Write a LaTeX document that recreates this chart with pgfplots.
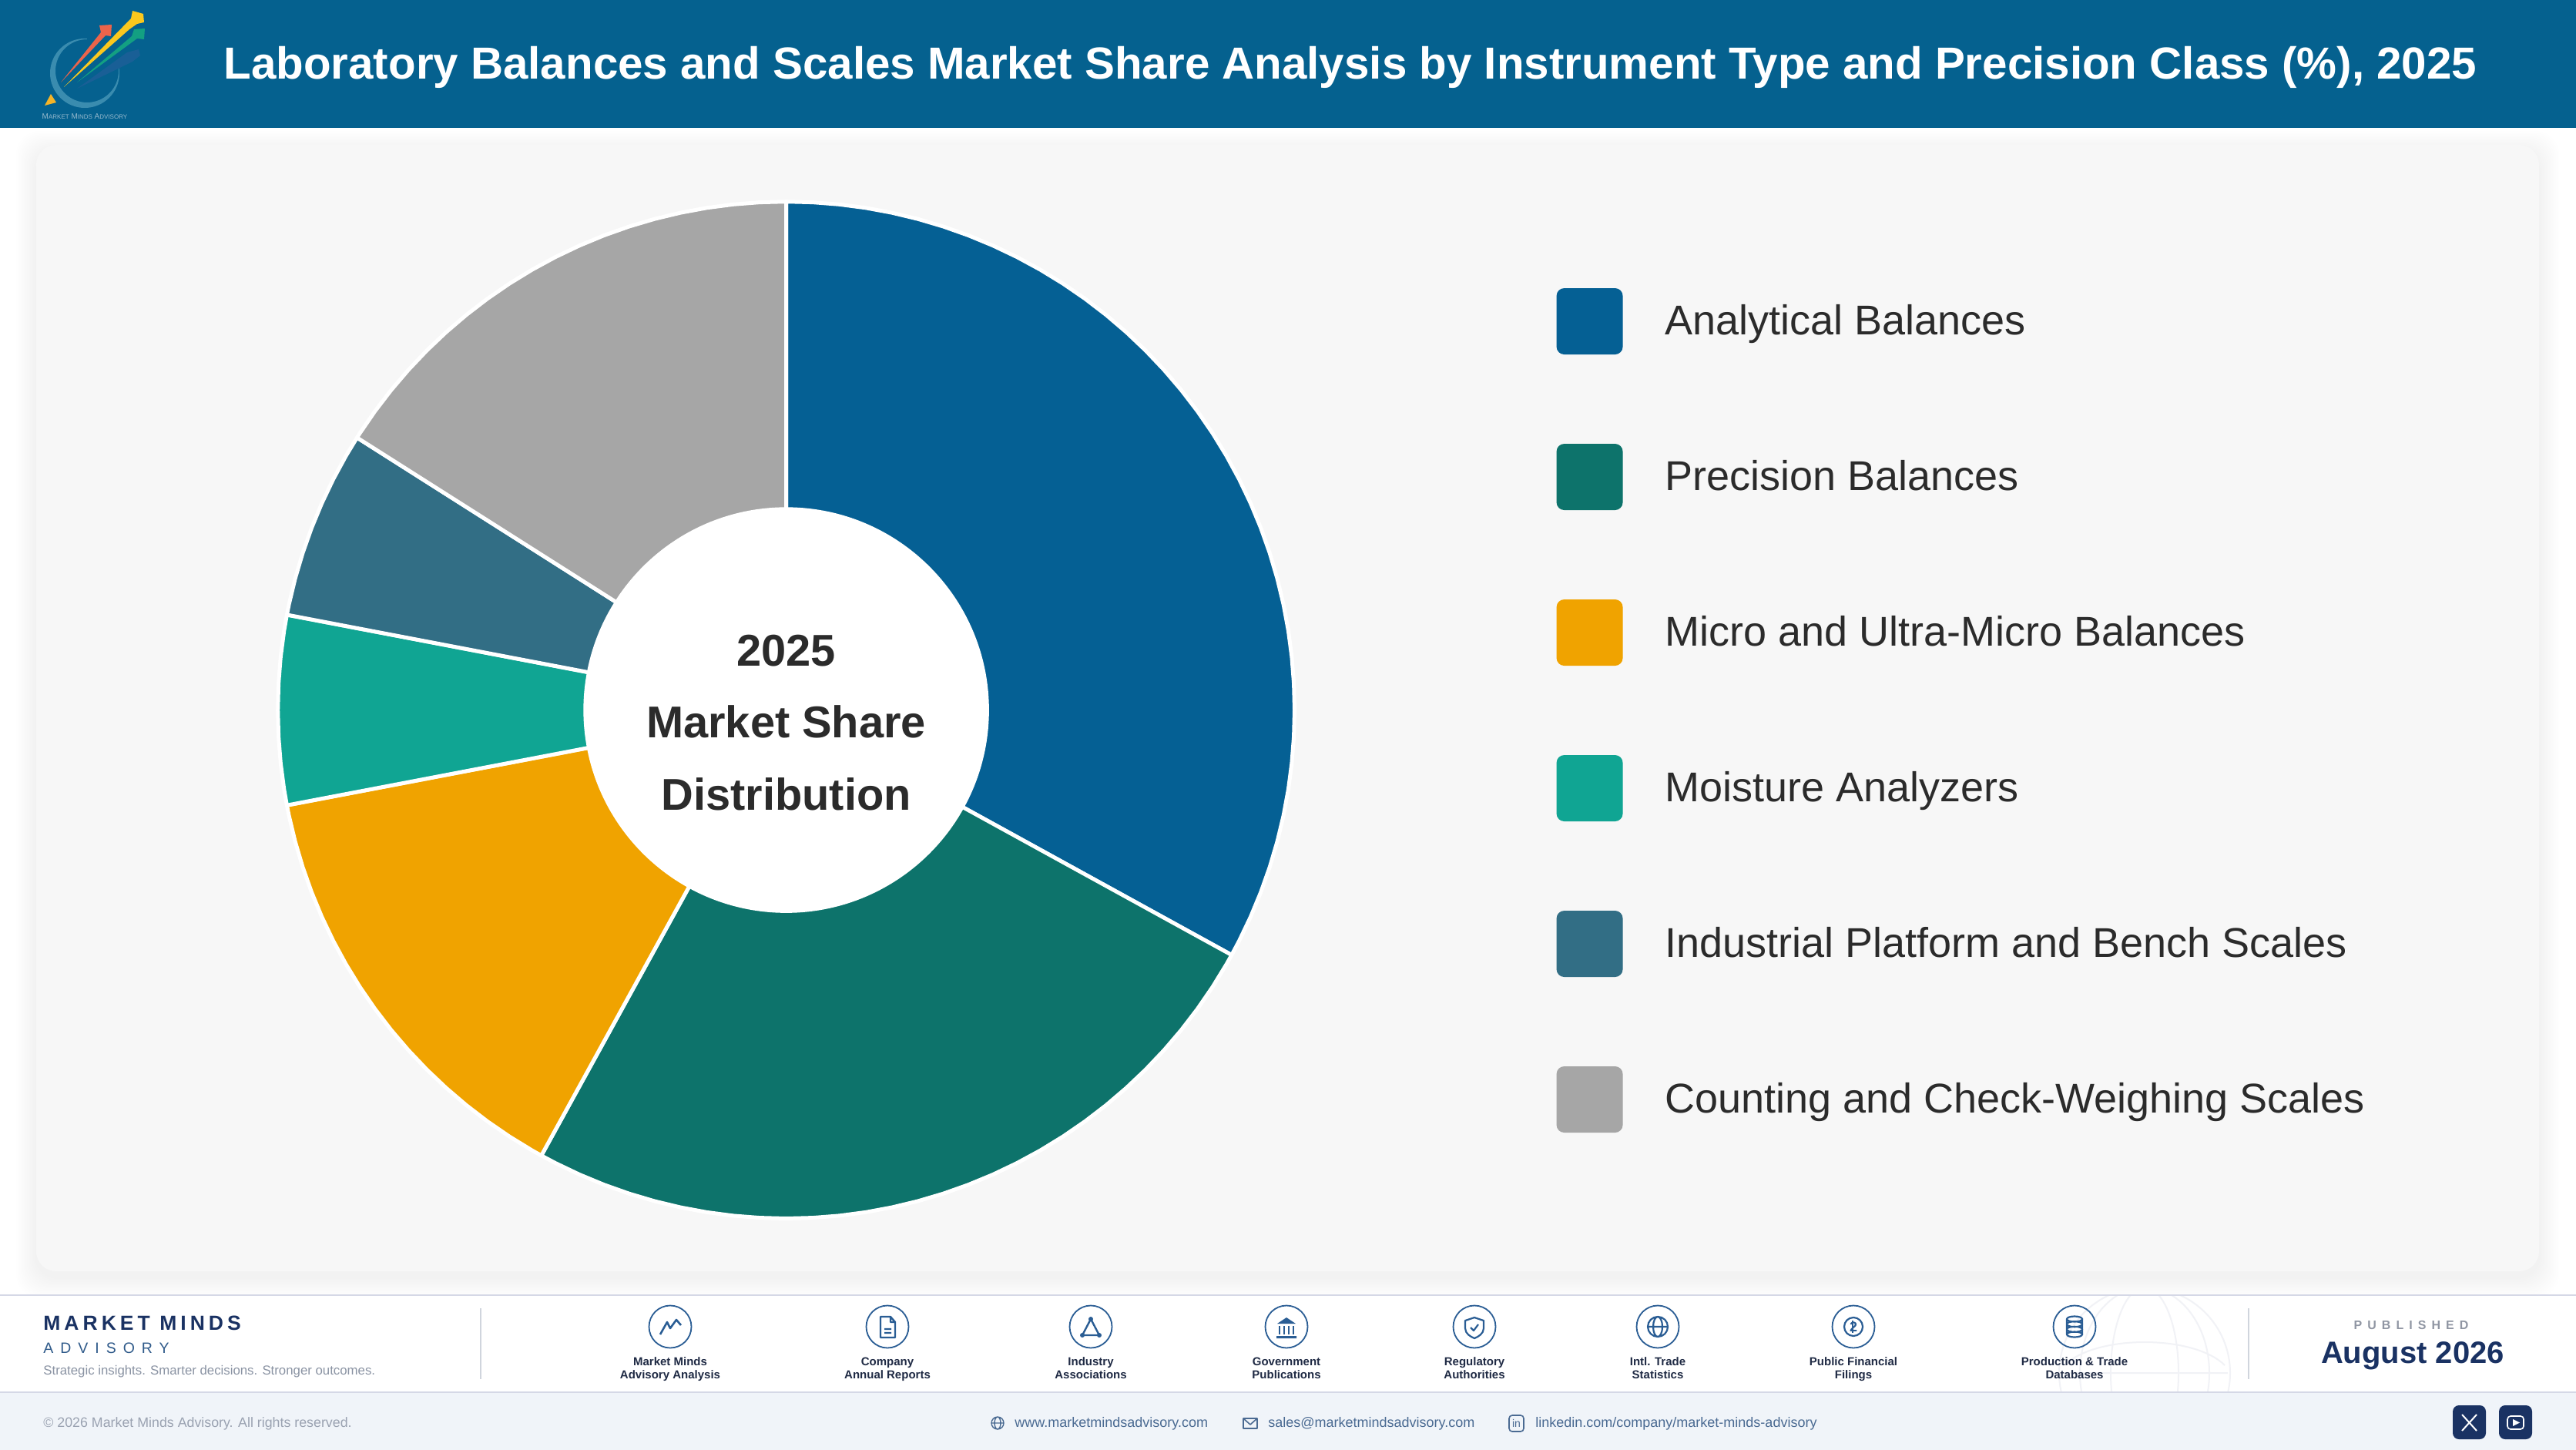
\documentclass[border=0pt]{standalone}
\usepackage{pgfplots}
\pgfplotsset{compat=1.18}
\usepgfplotslibrary{polar}
\usepackage{fontspec}
\setmainfont{Liberation Sans}
\newfontfamily\lsA[LetterSpace=19]{Liberation Sans}
\newfontfamily\lsB[LetterSpace=46]{Liberation Sans}
\newfontfamily\lsC[LetterSpace=44]{Liberation Sans}
\newcommand{\fs}[1]{\fontsize{#1}{#1}\selectfont}
\definecolor{hdr}{HTML}{05618F}
\definecolor{cA}{HTML}{056094}
\definecolor{cB}{HTML}{0D736B}
\definecolor{cC}{HTML}{F0A300}
\definecolor{cD}{HTML}{10A593}
\definecolor{cE}{HTML}{326E85}
\definecolor{cF}{HTML}{A6A6A6}
\definecolor{card}{HTML}{F7F7F7}
\definecolor{navy}{HTML}{1A3263}
\definecolor{ico}{HTML}{2A5D94}
\definecolor{rule}{HTML}{D5D8E6}
\definecolor{band}{HTML}{F0F4F9}
\definecolor{ink}{HTML}{2B2B2B}
\begin{document}
\begin{tikzpicture}
\path[use as bounding box] (0,0) rectangle (1672pt,-941pt);
\begin{scope}[x=.5pt,y=-.5pt]
\fill[white] (0,0) rectangle (3344,1882);
% card shadow
\foreach \e in {26,24,...,2}{
  \fill[black,opacity=.0055,rounded corners=15pt] (47-\e,188-\e+8) rectangle (3296+\e,1650+\e+8);
}
\fill[card,rounded corners=13pt] (47,188) rectangle (3296,1650);
\end{scope}

% share of 2025 market, %: 33, 25, 14, 6, 6, 16 (angles are polar degrees, radius in picture px)
\begin{axis}[
  at={(510.3pt,-460.8pt)},anchor=center,
  scale only axis,width=700pt,height=700pt,
  xmin=-698,xmax=698,ymin=-698,ymax=698,
  hide axis,clip=false,
  legend image code/.code={
    \fill[#1,draw=none,rounded corners=5pt] (0pt,-21.75pt) rectangle (43pt,21.25pt);
    \path (69pt,0pt);
  },
  legend cell align=left,
  legend style={draw=none,fill=none,inner sep=0pt,outer sep=0pt,
    at={(axis cs:997.1,546)},anchor=north west,row sep=58pt,
    nodes={inner sep=0pt,outer sep=0pt},
    font=\fs{27pt}\color{ink}},
]
\addplot[fill=cA,draw=white,line width=2.5pt,line join=round,data cs=polar] coordinates {(0,0)
(90,658)(87,658)(84,658)(81,658)(78,658)(75,658)(72,658)(69,658)(66,658)(63,658)(60,658)(57,658)(54,658)(51,658)(48,658)(45,658)(42,658)(39,658)(36,658)(33,658)(30,658)(27,658)(24,658)(21,658)(18,658)(15,658)(12,658)(9,658)(6,658)(3,658)(0,658)(-3,658)(-6,658)(-9,658)(-12,658)(-15,658)(-18,658)(-21,658)(-24,658)(-27,658)(-28.8,658)} -- cycle;
\addlegendentry{Analytical Balances}
\addplot[fill=cB,draw=white,line width=2.5pt,line join=round,data cs=polar] coordinates {(0,0)
(-28.8,658)(-30,658)(-33,658)(-36,658)(-39,658)(-42,658)(-45,658)(-48,658)(-51,658)(-54,658)(-57,658)(-60,658)(-63,658)(-66,658)(-69,658)(-72,658)(-75,658)(-78,658)(-81,658)(-84,658)(-87,658)(-90,658)(-93,658)(-96,658)(-99,658)(-102,658)(-105,658)(-108,658)(-111,658)(-114,658)(-117,658)(-118.8,658)} -- cycle;
\addlegendentry{Precision Balances}
\addplot[fill=cC,draw=white,line width=2.5pt,line join=round,data cs=polar] coordinates {(0,0)
(-118.8,658)(-120,658)(-123,658)(-126,658)(-129,658)(-132,658)(-135,658)(-138,658)(-141,658)(-144,658)(-147,658)(-150,658)(-153,658)(-156,658)(-159,658)(-162,658)(-165,658)(-168,658)(-169.2,658)} -- cycle;
\addlegendentry{Micro and Ultra-Micro Balances}
\addplot[fill=cD,draw=white,line width=2.5pt,line join=round,data cs=polar] coordinates {(0,0)
(-169.2,658)(-171,658)(-174,658)(-177,658)(-180,658)(-183,658)(-186,658)(-189,658)(-190.8,658)} -- cycle;
\addlegendentry{Moisture Analyzers}
\addplot[fill=cE,draw=white,line width=2.5pt,line join=round,data cs=polar] coordinates {(0,0)
(-190.8,658)(-192,658)(-195,658)(-198,658)(-201,658)(-204,658)(-207,658)(-210,658)(-212.4,658)} -- cycle;
\addlegendentry{Industrial Platform and Bench Scales}
\addplot[fill=cF,draw=white,line width=2.5pt,line join=round,data cs=polar] coordinates {(0,0)
(-212.4,658)(-213,658)(-216,658)(-219,658)(-222,658)(-225,658)(-228,658)(-231,658)(-234,658)(-237,658)(-240,658)(-243,658)(-246,658)(-249,658)(-252,658)(-255,658)(-258,658)(-261,658)(-264,658)(-267,658)(-270,658)} -- cycle;
\addlegendentry{Counting and Check-Weighing Scales}
\fill[white] (axis cs:0,0) circle[radius=262.5];
\node[font=\fs{28.9pt}\bfseries,text=ink,anchor=center] at (axis cs:0,76.4) {2025};
\node[font=\fs{28.9pt}\bfseries,text=ink,anchor=center] at (axis cs:0,-15.4) {Market Share};
\node[font=\fs{28.9pt}\bfseries,text=ink,anchor=center] at (axis cs:0,-109) {Distribution};
\end{axis}

\begin{scope}[x=.5pt,y=-.5pt]
% header
\fill[hdr] (0,0) rectangle (3344,166);
\node[text=white,font=\fs{29.15pt}\bfseries,anchor=center] at (1753,87) {Laboratory Balances and Scales Market Share Analysis by Instrument Type and Precision Class (\%), 2025};
% logo
\fill[even odd rule,color={rgb,255:red,58;green,140;blue,175}] (110,95) circle[radius=45] (113,92) circle[radius=41];
\fill[hdr] (113,44) -- (170,44) -- (170,88) -- (113,88) -- cycle;
\fill[color={rgb,255:red,25;green,95;blue,150}] (100,115) -- (165,68) -- (180,64) -- (182,72) -- (172,80) -- cycle;
\fill[color={rgb,255:red,235;green,100;blue,75}] (79,107) -- (131,42) -- (129,33) -- (145,32) -- (144,47) -- (137,46) -- cycle;
\fill[color={rgb,255:red,19;green,160;blue,130}] (100,107) -- (171,47) -- (174,38) -- (188,37) -- (187,51) -- (178,50) -- cycle;
\fill[color={rgb,255:red,250;green,200;blue,30}] (83,113) -- (170,24) -- (172,14) -- (186,18) -- (187,29) -- (178,31) -- (168,38) -- cycle;
\fill[color={rgb,255:red,245;green,180;blue,40}] (58,137) -- (73,133) -- (66,122) -- cycle;
\node[text={rgb,255:red,150;green,185;blue,205},font=\fs{5pt},inner sep=0pt] at (110,151) {M{\fs{4pt}ARKET} M{\fs{4pt}INDS} A{\fs{4pt}DVISORY}};

% footer
\fill[white] (0,1681) rectangle (3344,1807);
\begin{scope}
\clip (2600,1682) rectangle (2950,1806);
\draw[color={rgb,255:red,241;green,242;blue,246},line width=1pt] (2784,1782) circle[radius=111] (2784,1782) ellipse[x radius=44,y radius=111] (2784,1782) ellipse[x radius=84,y radius=111] (2676,1782) -- (2892,1782) (2680,1772) .. controls (2720,1732) and (2848,1732) .. (2888,1772);
\end{scope}
\fill[band] (0,1807) rectangle (3344,1882);
\draw[rule,line width=1pt] (0,1681) -- (3344,1681) (0,1807) -- (3344,1807);
\draw[color={rgb,255:red,208;green,213;blue,221},line width=.8pt] (624,1698) -- (624,1790) (2919,1698) -- (2919,1790);
\node[anchor=base west,inner sep=0pt,text=navy,font=\fs{13.25pt}\lsA\bfseries] at (56,1726) {MARKET MINDS};
\node[anchor=base west,inner sep=0pt,text={rgb,255:red,47;green,90;blue,138},font=\fs{9.75pt}\lsB] at (56,1756) {ADVISORY};
\node[anchor=base west,inner sep=0pt,text={rgb,255:red,138;green,147;blue,163},font=\fs{8.4pt}] at (56,1784) {Strategic insights. Smarter decisions. Stronger outcomes.};
\foreach \x/\a/\b in {870/Market Minds/Advisory Analysis,1152/Company/Annual Reports,1416/Industry/Associations,1670/Government/Publications,1914/Regulatory/Authorities,2152/Intl. Trade/Statistics,2406/Public Financial/Filings,2693/Production \& Trade/Databases}{
  \draw[ico,line width=.9pt] (\x,1722) circle[radius=27.5];
  \node[anchor=base,inner sep=0pt,text={rgb,255:red,31;green,42;blue,68},font=\fs{7.5pt}\bfseries] at (\x,1772) {\a};
  \node[anchor=base,inner sep=0pt,text={rgb,255:red,31;green,42;blue,68},font=\fs{7.5pt}\bfseries] at (\x,1789.5) {\b};
}
% icons
\draw[ico,line width=1.3pt,line join=round] (857,1732) -- (866,1716) -- (870,1724) -- (878,1713) -- (884,1720);
\begin{scope}[shift={(1152,1722)}]
\draw[ico,line width=1.2pt,line join=round] (-9,-13) -- (4,-13) -- (10,-6) -- (10,14) -- (-9,14) -- cycle (4,-13) -- (4,-6) -- (10,-6) (-4,3) -- (5,3) (-4,8) -- (5,8);
\end{scope}
\begin{scope}[shift={(1416,1722)}]
\draw[ico,line width=1.2pt,line join=round] (0,-10) -- (11,11) -- (-11,11) -- cycle;
\fill[ico] (0,-10) circle[radius=3] (11,11) circle[radius=3] (-11,11) circle[radius=3];
\end{scope}
\begin{scope}[shift={(1670,1722)}]
\fill[ico] (0,-12) -- (12,-4) -- (-12,-4) -- cycle (-13,12) rectangle (13,15);
\draw[ico,line width=1.1pt] (-9,-1) -- (-9,10) (-3,-1) -- (-3,10) (3,-1) -- (3,10) (9,-1) -- (9,10);
\end{scope}
\begin{scope}[shift={(1914,1722)}]
\draw[ico,line width=1.1pt,line join=round] (0,-12) -- (12,-8) -- (12,2) .. controls (12,9) and (5,13) .. (0,15) .. controls (-5,13) and (-12,9) .. (-12,2) -- (-12,-8) -- cycle;
\draw[ico,line width=1.1pt,line join=round] (-5,1) -- (-1,5) -- (5,-3);
\end{scope}
\begin{scope}[shift={(2152,1722)}]
\draw[ico,line width=1.1pt] (0,0) circle[radius=13] (0,0) ellipse[x radius=6,y radius=13] (-13,0) -- (13,0);
\end{scope}
\begin{scope}[shift={(2406,1722)}]
\draw[ico,line width=1.1pt] (0,0) circle[radius=12];
\node[text=ico,font=\fs{9pt}\bfseries,inner sep=0pt] at (0,0) {2};
\draw[ico,line width=.8pt] (-1,-8) -- (-1,8);
\end{scope}
\begin{scope}[shift={(2693,1722)}]
\draw[ico,line width=1.1pt] (-10,-10) -- (-10,10) (10,-10) -- (10,10) (0,-10) ellipse[x radius=10,y radius=3.5] (0,-3.3) ellipse[x radius=10,y radius=3.5] (0,3.3) ellipse[x radius=10,y radius=3.5] (0,10) ellipse[x radius=10,y radius=3.5];
\end{scope}
\node[text={rgb,255:red,144;green,150;blue,163},font=\fs{8pt}\lsC\bfseries] at (3130,1720) {PUBLISHED};
\node[text=navy,font=\fs{20pt}\bfseries] at (3132,1760) {August 2026};
% bottom band
\node[anchor=base west,inner sep=0pt,text={rgb,255:red,154;green,162;blue,177},font=\fs{8.9pt}] at (56,1852) {© 2026 Market Minds Advisory. All rights reserved.};
\node[anchor=base west,inner sep=0pt,text={rgb,255:red,74;green,106;blue,146},font=\fs{9pt}] at (1317,1852) {www.marketmindsadvisory.com};
\node[anchor=base west,inner sep=0pt,text={rgb,255:red,74;green,106;blue,146},font=\fs{9pt}] at (1646,1852) {sales@marketmindsadvisory.com};
\node[anchor=base west,inner sep=0pt,text={rgb,255:red,74;green,106;blue,146},font=\fs{9pt}] at (1993,1852) {linkedin.com/company/market-minds-advisory};
\draw[color={rgb,255:red,74;green,106;blue,146},line width=.7pt] (1295,1847) circle[radius=8] (1295,1847) ellipse[x radius=4,y radius=8] (1287,1847) -- (1303,1847);
\draw[color={rgb,255:red,74;green,106;blue,146},line width=.8pt,line join=round] (1614,1841) rectangle (1632,1854) (1614,1841) -- (1623,1849) -- (1632,1841);
\draw[color={rgb,255:red,74;green,106;blue,146},line width=.8pt,rounded corners=2pt] (1959,1837) rectangle (1978,1858);
\node[text={rgb,255:red,74;green,106;blue,146},font=\fs{7pt},inner sep=0pt] at (1968.5,1847.5) {in};
\fill[navy,rounded corners=4pt] (3184,1824) rectangle (3227,1868) (3244,1824) rectangle (3287,1868);
\draw[white,line width=1pt] (3196,1836) -- (3215,1857) (3215,1836) -- (3196,1857);
\draw[white,line width=.8pt,rounded corners=2pt] (3255,1838) rectangle (3276,1855);
\fill[white] (3262,1842) -- (3271,1846.5) -- (3262,1851) -- cycle;
\end{scope}
\end{tikzpicture}
\end{document}
